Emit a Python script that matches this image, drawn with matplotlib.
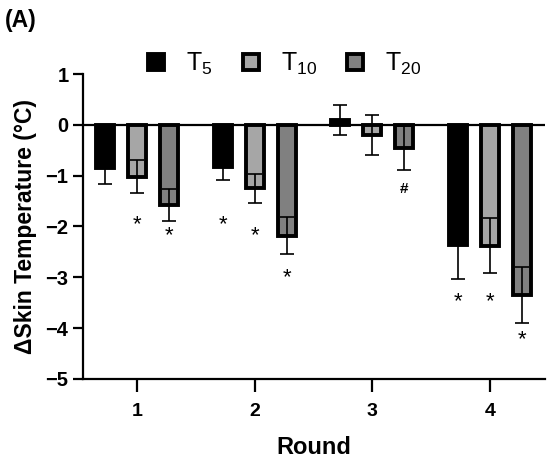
import matplotlib
matplotlib.use("Agg")
import matplotlib.pyplot as plt
import numpy as np

plt.rcParams['font.family'] = ['Liberation Sans', 'DejaVu Sans']
plt.rcParams['mathtext.fontset'] = 'custom'
plt.rcParams['mathtext.rm'] = 'Liberation Sans'
plt.rcParams['mathtext.it'] = 'Liberation Sans'

rounds = [1, 2, 3, 4]
series_labels = ['T$_{5}$', 'T$_{10}$', 'T$_{20}$']
t5_mean = [-0.85, -0.83, 0.10, -2.36]
t5_err = [0.32, 0.26, 0.30, 0.68]
t10_mean = [-1.02, -1.25, -0.20, -2.38]
t10_err = [0.33, 0.28, 0.40, 0.54]
t20_mean = [-1.58, -2.18, -0.45, -3.34]
t20_err = [0.32, 0.36, 0.43, 0.55]

sig_round = [1, 1, 2, 2, 2, 3, 4, 4, 4]
sig_series = [1, 2, 0, 1, 2, 2, 0, 1, 2]
sig_y = [-1.91, -2.14, -1.91, -2.14, -2.95, -1.26, -3.44, -3.44, -4.18]
sig_text = ['*', '*', '*', '*', '*', '#', '*', '*', '*']

yticks = [1, 0, -1, -2, -3, -4, -5]
ytick_labels = ['1', '0', '\u22121', '\u22122', '\u22123', '\u22124', '\u22125']

colors = ['#000000', '#a6a6a6', '#808080']
means = [t5_mean, t10_mean, t20_mean]
errs = [t5_err, t10_err, t20_err]

fig = plt.figure(figsize=(5.5, 4.62), dpi=100)
ax = fig.add_axes([0.151, 0.1797, 0.84, 0.6601])

x = np.array(rounds, dtype=float)
offset = 0.272
width = 0.152
handles = []
for i in range(3):
    xp = x + (i - 1) * offset
    b = ax.bar(xp, means[i], width=width, color=colors[i], edgecolor='black',
               linewidth=2.8, zorder=2, label=series_labels[i])
    ax.errorbar(xp, means[i], yerr=errs[i], fmt='none', ecolor='black',
                elinewidth=1.2, capsize=5, capthick=1.2, zorder=3)
    handles.append(b)

for r, s, yv, t in zip(sig_round, sig_series, sig_y, sig_text):
    xp = r + (s - 1) * offset
    if t == '*':
        ax.text(xp, yv, t, ha='center', va='center_baseline', fontsize=16, zorder=4)
    else:
        ax.text(xp, yv, t, ha='center', va='center', fontsize=11, fontweight='bold', zorder=4)

ax.axhline(0, color='black', linewidth=1.6, zorder=3)

ax.set_xlim(0.54, 4.47)
ax.set_ylim(-5, 1)
ax.set_xticks(rounds)
ax.set_xticklabels([str(r) for r in rounds], fontsize=14, fontweight='bold')
ax.set_yticks(yticks)
ax.set_yticklabels(ytick_labels, fontsize=14.5, fontweight='bold')
for sp in ['top', 'right']:
    ax.spines[sp].set_visible(False)
for sp in ['left', 'bottom']:
    ax.spines[sp].set_linewidth(1.6)
ax.tick_params(axis='y', direction='out', length=7.5, width=1.6, pad=3)
ax.tick_params(axis='x', direction='out', length=9, width=1.6, pad=8)
ax.set_xlabel('Round', fontsize=17, fontweight='bold', labelpad=12)
ax.set_ylabel('\u0394Skin Temperature (\u00b0C)', fontsize=16.5, fontweight='bold', labelpad=6)

fig.legend(handles=handles, labels=series_labels, loc='center', bbox_to_anchor=(0.518, 0.862),
           ncol=3, frameon=False, fontsize=18, handlelength=0.64, handleheight=0.64,
           handletextpad=0.88, columnspacing=1.2, borderpad=0)

fig.text(0.008, 0.956, '(A)', fontsize=16.5, fontweight='bold', ha='left', va='center')

fig.savefig('out.png', dpi=100)
